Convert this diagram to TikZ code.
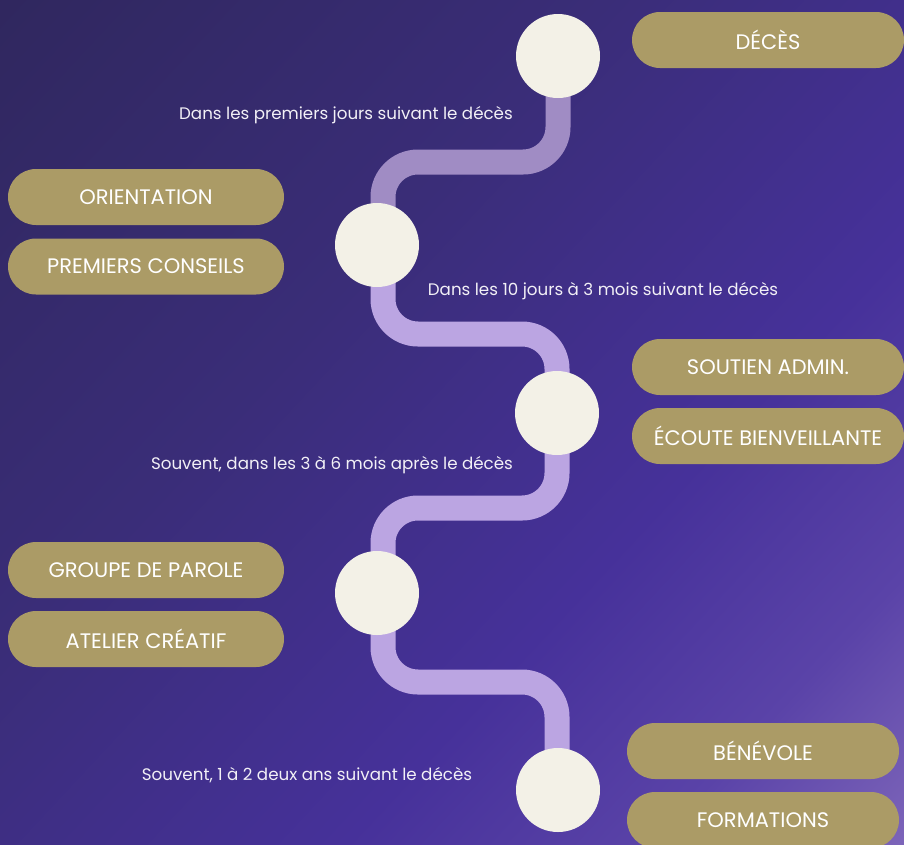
\documentclass[tikz,border=0pt]{standalone}
\usepackage{fontspec}
\setmainfont{Poppins}
\definecolor{bgA}{HTML}{2A2450}
\definecolor{bgB}{HTML}{3A2D78}
\definecolor{bgC}{HTML}{46319A}
\definecolor{bgD}{HTML}{5A43A8}
\definecolor{bgE}{HTML}{7E66BA}
\definecolor{pathA}{HTML}{A08CC4}
\definecolor{pathB}{HTML}{BBA5E2}
\definecolor{cream}{HTML}{F3F1E7}
\definecolor{gold}{HTML}{AB9B66}
\definecolor{labtext}{HTML}{F2F0F6}
\pgfdeclarehorizontalshading{bgshade}{100bp}{color(0bp)=(bgA); color(40bp)=(bgB); color(62bp)=(bgC); color(75bp)=(bgD); color(86bp)=(bgE); color(100bp)=(bgE)}
\begin{document}
\begin{tikzpicture}[x=1pt,y=-1pt,
  pill/.style={fill=gold, rounded corners=28pt, minimum width=276pt, minimum height=56pt, text=white, font=\fontsize{21}{23}\selectfont, inner sep=0pt},
  dot/.style={circle, fill=cream, minimum size=84pt, inner sep=0pt},
  track/.style={line width=25pt, rounded corners=35pt},
  lab/.style={text=labtext, font=\fontsize{16.7}{18}\selectfont, inner sep=0pt}]
\useasboundingbox (0,0) rectangle (904,844);
\clip (0,0) rectangle (904,844);
\shade[shading=bgshade, shading angle=-43] (0,0) rectangle (904,844);
% stations
\coordinate (j1) at (558,56);
\coordinate (j2) at (383,245);
\coordinate (j3) at (557,413);
\coordinate (j4) at (383,593);
\coordinate (j5) at (557,790);
\draw[track, pathA] (j1) -- (558,162) -- (383,162) -- (j2);
\draw[track, pathB] (j2) -- (383,334) -- (557,334) -- (j3);
\draw[track, pathB] (j3) -- (557,508) -- (383,508) -- (j4);
\draw[track, pathB] (j4) -- (383,682) -- (557,682) -- (j5);
\node[dot] (c1) at (558,56) {};
\node[dot] (c2) at (377,245) {};
\node[dot] (c3) at (557,413) {};
\node[dot] (c4) at (377,593) {};
\node[dot] (c5) at (558,790) {};
% pills
\node[pill, minimum width=272pt] (deces) at (768,40) {DÉCÈS};
\node[pill] (orient) at (146,197) {ORIENTATION};
\node[pill] (premiers) at (146,266.5) {PREMIERS CONSEILS};
\node[pill, minimum width=272pt] (soutien) at (768,367) {SOUTIEN ADMIN.};
\node[pill, minimum width=272pt] (ecoute) at (768,436) {ÉCOUTE BIENVEILLANTE};
\node[pill] (groupe) at (146,570) {GROUPE DE PAROLE};
\node[pill] (atelier) at (146,639) {ATELIER CRÉATIF};
\node[pill, minimum width=272pt] (benevole) at (763,751) {BÉNÉVOLE};
\node[pill, minimum width=272pt] (formations) at (763,820) {FORMATIONS};
% labels
\node[lab] (l1) at (346,115) {Dans les premiers jours suivant le décès};
\node[lab] (l2) at (603,291) {Dans les 10 jours à 3 mois suivant le décès};
\node[lab] (l3) at (332,465) {Souvent, dans les 3 à 6 mois après le décès};
\node[lab] (l4) at (307,775) {Souvent, 1 à 2 deux ans suivant le décès};
\end{tikzpicture}
\end{document}
